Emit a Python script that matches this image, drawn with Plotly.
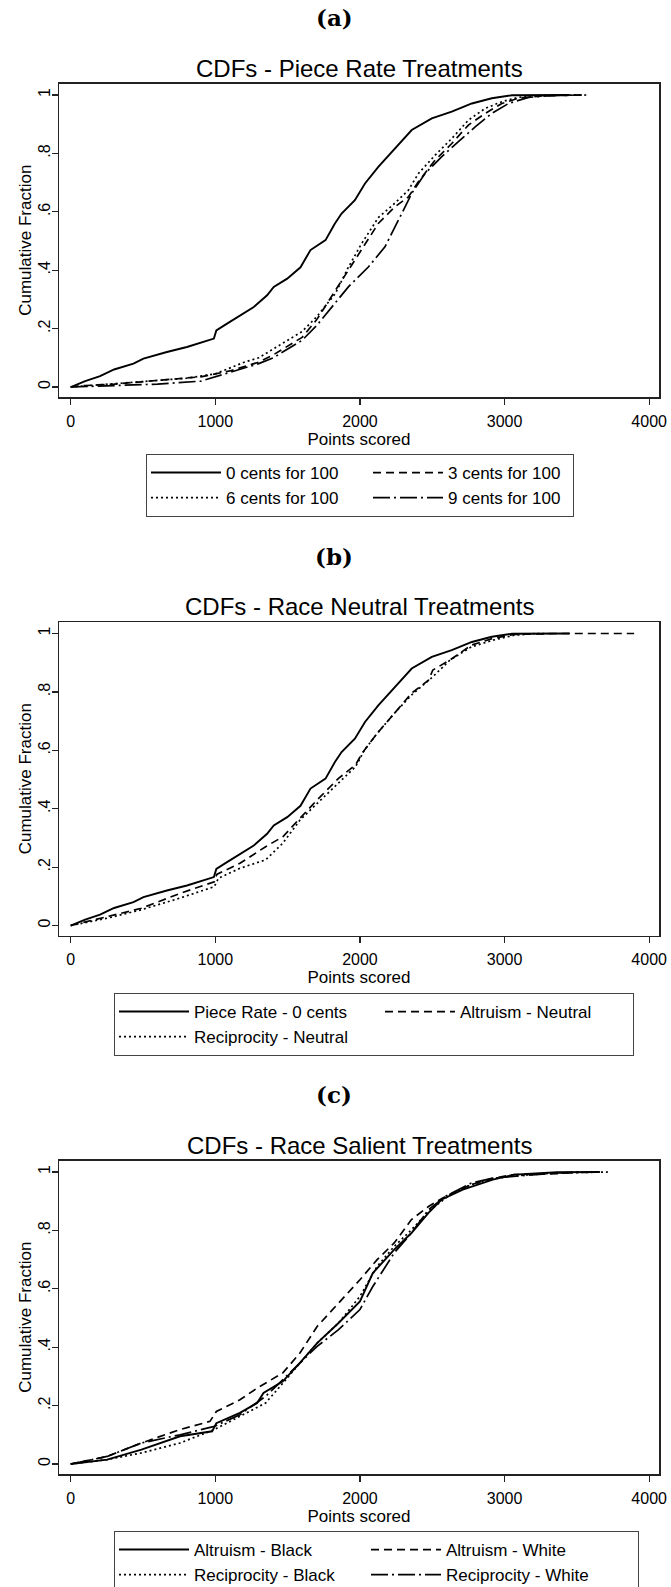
import plotly.graph_objects as go

FONT = "Liberation Sans, Arial, sans-serif"

# ---------------- data ----------------
# Panel (a) / (b): piece rate, 0 cents for 100
pr0_x = [0, 100, 203, 300, 434, 503, 665, 804, 990, 1007, 1081, 1173, 1266, 1358, 1404, 1497, 1589, 1658,
         1762, 1827, 1873, 1965, 2035, 2127, 2242, 2358, 2497, 2635, 2774, 2912, 3051, 3212, 3450]
pr0_y = [0, 0.02, 0.037, 0.06, 0.08, 0.097, 0.12, 0.137, 0.166, 0.194, 0.217, 0.246, 0.274, 0.314, 0.343,
         0.371, 0.41, 0.469, 0.503, 0.56, 0.594, 0.64, 0.697, 0.754, 0.817, 0.88, 0.92, 0.943, 0.971, 0.989,
         0.999, 1.0, 1.0]
# 3 cents for 100
pr3_x = [0, 100, 300, 500, 700, 900, 1000, 1100, 1200, 1300, 1400, 1500, 1600, 1700, 1830, 1920, 2010, 2127,
         2242, 2335, 2404, 2520, 2635, 2750, 2866, 2981, 3097, 3258, 3524]
pr3_y = [0, 0.005, 0.01, 0.018, 0.025, 0.035, 0.045, 0.055, 0.07, 0.085, 0.11, 0.14, 0.17, 0.23, 0.33, 0.40,
         0.47, 0.56, 0.617, 0.651, 0.703, 0.777, 0.834, 0.897, 0.937, 0.971, 0.989, 0.997, 1.0]
# 6 cents for 100
pr6_x = [0, 200, 500, 800, 1000, 1100, 1200, 1300, 1400, 1500, 1600, 1700, 1830, 1920, 2010, 2127, 2242, 2335,
         2404, 2520, 2635, 2750, 2866, 2981, 3097, 3258, 3575]
pr6_y = [0, 0.008, 0.02, 0.03, 0.045, 0.065, 0.085, 0.10, 0.13, 0.16, 0.19, 0.24, 0.32, 0.41, 0.49, 0.58,
         0.63, 0.674, 0.731, 0.794, 0.851, 0.914, 0.954, 0.977, 0.992, 0.999, 1.0]
# 9 cents for 100
pr9_x = [0, 300, 600, 900, 1000, 1100, 1200, 1300, 1400, 1500, 1600, 1700, 1830, 1920, 2058, 2173, 2289, 2358,
         2450, 2566, 2681, 2797, 2912, 3028, 3166, 3328, 3535]
pr9_y = [0, 0.005, 0.01, 0.02, 0.035, 0.05, 0.065, 0.08, 0.10, 0.13, 0.16, 0.21, 0.29, 0.343, 0.411, 0.48,
         0.594, 0.663, 0.731, 0.789, 0.84, 0.891, 0.937, 0.971, 0.992, 0.998, 1.0]

# Panel (b): race neutral
altn_x = [0, 252, 489, 756, 993, 1010, 1170, 1348, 1467, 1585, 1704, 1852, 1970, 2015, 2119, 2237, 2356, 2474,
          2504, 2622, 2770, 2919, 3067, 3363, 3896]
altn_y = [0, 0.031, 0.059, 0.11, 0.15, 0.175, 0.213, 0.27, 0.304, 0.367, 0.43, 0.504, 0.55, 0.59, 0.658, 0.726,
          0.795, 0.84, 0.875, 0.909, 0.96, 0.983, 0.997, 1.0, 1.0]
recn_x = [0, 252, 489, 756, 993, 1022, 1170, 1348, 1467, 1585, 1704, 1852, 1970, 2030, 2119, 2237, 2356, 2504,
          2622, 2770, 2919, 3067, 3215, 3300]
recn_y = [0, 0.025, 0.054, 0.094, 0.133, 0.162, 0.196, 0.225, 0.282, 0.361, 0.418, 0.487, 0.544, 0.6, 0.658,
          0.726, 0.789, 0.852, 0.909, 0.954, 0.977, 0.994, 1.0, 1.0]

# Panel (c): race salient
altb_x = [0, 252, 489, 756, 978, 1007, 1170, 1289, 1333, 1467, 1585, 1704, 1852, 2000, 2089, 2237, 2356, 2474,
          2563, 2711, 2919, 3067, 3363, 3659]
altb_y = [0, 0.015, 0.049, 0.095, 0.112, 0.14, 0.175, 0.209, 0.243, 0.283, 0.346, 0.414, 0.483, 0.557, 0.654,
          0.734, 0.791, 0.86, 0.905, 0.94, 0.974, 0.991, 0.999, 1.0]
altw_x = [0, 252, 489, 756, 963, 1007, 1170, 1289, 1467, 1585, 1704, 1852, 2000, 2119, 2237, 2356, 2474, 2593,
          2770, 2919, 3067, 3363, 3511]
altw_y = [0, 0.026, 0.072, 0.118, 0.146, 0.18, 0.22, 0.26, 0.312, 0.38, 0.471, 0.551, 0.631, 0.7, 0.757, 0.837,
          0.882, 0.917, 0.957, 0.979, 0.991, 0.994, 1.0]
recb_x = [0, 252, 489, 756, 993, 1170, 1348, 1467, 1585, 1704, 1852, 2000, 2119, 2237, 2356, 2474, 2622, 2770,
          2919, 3067, 3363, 3719]
recb_y = [0, 0.015, 0.038, 0.072, 0.118, 0.163, 0.209, 0.277, 0.346, 0.414, 0.483, 0.574, 0.677, 0.745, 0.802,
          0.865, 0.922, 0.957, 0.976, 0.987, 0.997, 1.0]
recw_x = [0, 252, 489, 756, 993, 1170, 1348, 1467, 1585, 1704, 1852, 2000, 2089, 2237, 2356, 2474, 2593, 2770,
          2919, 3215, 3363, 3659]
recw_y = [0, 0.026, 0.072, 0.1, 0.129, 0.169, 0.232, 0.289, 0.346, 0.403, 0.46, 0.529, 0.608, 0.723, 0.791,
          0.871, 0.917, 0.962, 0.979, 0.991, 0.997, 1.0]

panel_labels = ["(a)", "(b)", "(c)"]
panel_titles = ["CDFs - Piece Rate Treatments", "CDFs - Race Neutral Treatments", "CDFs - Race Salient Treatments"]
x_ticks = [0, 1000, 2000, 3000, 4000]
y_ticks = [0, 0.2, 0.4, 0.6, 0.8, 1]
y_ticktext = ["0", ".2", ".4", ".6", ".8", "1"]

# ---------------- layout helpers ----------------
W, H = 671, 1587
SOLID, DASH, DOT, DASHDOT = "solid", "8px,5px", "2px,3px", "17px,4px,2px,4px"
tops = [83.5, 622, 1160.5]
box_h = 313.5
X_DOM = [59 / W, 659 / W]

fig = go.Figure()


def add(xs, ys, name, dash, idx, group, lw):
    sfx = "" if idx == 0 else str(idx + 1)
    fig.add_trace(go.Scatter(
        x=xs, y=ys, mode="lines", name=name,
        line=dict(color="black", width=1.9 if dash == SOLID else 1.7, dash=dash),
        xaxis="x" + sfx, yaxis="y" + sfx,
        legend="legend" + sfx, legendgroup=group, legendwidth=lw,
        hoverinfo="skip"))


# panel a
add(pr0_x, pr0_y, "0 cents for 100", SOLID, 0, "a1", 137)
add(pr3_x, pr3_y, "3 cents for 100", DASH, 0, "a2", 120)
add(pr6_x, pr6_y, "6 cents for 100", DOT, 0, "a1", 137)
add(pr9_x, pr9_y, "9 cents for 100", DASHDOT, 0, "a2", 120)
# panel b
add(pr0_x, pr0_y, "Piece Rate - 0 cents", SOLID, 1, "b1", 181)
add(altn_x, altn_y, "Altruism - Neutral", DASH, 1, "b2", 168)
add(recn_x, recn_y, "Reciprocity - Neutral", DOT, 1, "b1", 181)
# panel c
add(altb_x, altb_y, "Altruism - Black", SOLID, 2, "c1", 167)
add(altw_x, altw_y, "Altruism - White", DASH, 2, "c2", 187)
add(recb_x, recb_y, "Reciprocity - Black", DOT, 2, "c1", 167)
add(recw_x, recw_y, "Reciprocity - White", DASHDOT, 2, "c2", 187)

layout = dict(
    width=W, height=H, autosize=False,
    margin=dict(l=0, r=0, t=0, b=0, autoexpand=False),
    paper_bgcolor="white", plot_bgcolor="white",
    font=dict(family=FONT, color="black", size=16),
    showlegend=True,
    annotations=[],
)

legend_pos = [(146, 454), (114, 993), (114, 1531)]

for i, T in enumerate(tops):
    sfx = "" if i == 0 else str(i + 1)
    B = T + box_h
    layout["xaxis" + sfx] = dict(
        domain=X_DOM, range=[-81, 4068], anchor="y" + sfx,
        tickvals=x_ticks, ticks="outside", ticklen=6, tickwidth=1.2, tickcolor="#222",
        ticklabelstandoff=3,
        showline=True, mirror=True, linecolor="#222", linewidth=1.5,
        showgrid=False, zeroline=False, tickfont=dict(size=16, family=FONT),
        title=dict(text="Points scored", font=dict(size=17, family=FONT), standoff=0),
    )
    layout["yaxis" + sfx] = dict(
        domain=[1 - B / H, 1 - T / H], range=[-0.0342, 1.0394], anchor="x" + sfx,
        tickvals=y_ticks, ticktext=y_ticktext, tickangle=-90,
        ticks="outside", ticklen=6, tickwidth=1.2, tickcolor="#222",
        ticklabelstandoff=-5,
        showline=True, mirror=True, linecolor="#222", linewidth=1.5,
        showgrid=False, zeroline=False, tickfont=dict(size=16, family=FONT),
        title=dict(text="Cumulative Fraction", font=dict(size=17, family=FONT), standoff=0),
    )
    lx, ly = legend_pos[i]
    layout["legend" + sfx] = dict(
        x=lx / W, y=1 - ly / H, xref="paper", yref="paper", xanchor="left", yanchor="top",
        orientation="h", traceorder="grouped", tracegroupgap=0, itemwidth=70,
        font=dict(size=17, family=FONT, color="black"),
        bordercolor="#444", borderwidth=1, bgcolor="white",
        itemclick=False, itemdoubleclick=False,
    )
    layout["annotations"].append(dict(
        text="<b>" + panel_labels[i] + "</b>", x=334 / W, y=1 - (T - 66) / H,
        xref="paper", yref="paper", xanchor="center", yanchor="middle", showarrow=False,
        font=dict(family="DejaVu Serif, serif", size=23, color="black")))
    layout["annotations"].append(dict(
        text=panel_titles[i], x=359 / W, y=1 - (T - 15.5) / H,
        xref="paper", yref="paper", xanchor="center", yanchor="middle", showarrow=False,
        font=dict(family=FONT, size=24, color="black")))

fig.update_layout(**layout)
fig.write_html(
    "out.html",
    config={"displayModeBar": False, "staticPlot": True},
    post_script="document.body.style.margin='0px';document.body.style.overflow='hidden';",
)
